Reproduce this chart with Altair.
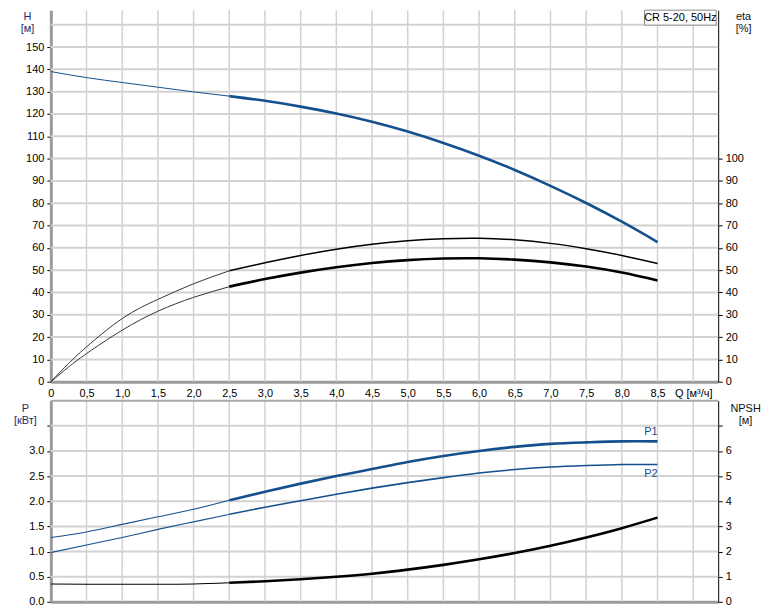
import altair as alt
import pandas as pd

# ---------------- data ----------------
Q = [0, 0.5, 1.0, 1.5, 2.0, 2.5, 3.0, 3.5, 4.0, 4.5, 5.0, 5.5, 6.0, 6.5, 7.0, 7.5, 8.0, 8.5]
H = [139.0, 136.3, 134.1, 132.0, 129.9, 128.0, 125.9, 123.3, 120.2, 116.5,
     112.1, 107.0, 101.3, 94.9, 87.8, 80.1, 71.7, 62.6]

Q_ETA = [0, 0.25, 0.5, 1.0, 1.5, 2.0, 2.5, 3.0, 3.5, 4.0, 4.5, 5.0, 5.5, 6.0, 6.5, 7.0, 7.5, 8.0, 8.5]
ETA_UPPER = [0, 8.2, 15.6, 28.3, 36.9, 43.9, 49.7, 53.3, 56.6, 59.4, 61.6, 63.2, 64.1, 64.3, 63.6, 62.0, 59.6, 56.6, 53.0]
ETA_LOWER = [0, 6.6, 12.6, 23.1, 31.6, 37.8, 42.6, 46.0, 48.9, 51.3, 53.2, 54.5, 55.2, 55.3, 54.7, 53.5, 51.6, 48.9, 45.4]

P1 = [1.28, 1.39, 1.54, 1.69, 1.84, 2.02, 2.19, 2.35, 2.50, 2.64, 2.78, 2.90, 3.00, 3.08, 3.14, 3.17, 3.19, 3.19]
P2 = [0.98, 1.13, 1.28, 1.44, 1.59, 1.74, 1.88, 2.01, 2.14, 2.26, 2.37, 2.47, 2.56, 2.63, 2.68, 2.71, 2.73, 2.73]
NPSH = [0.71, 0.70, 0.70, 0.70, 0.71, 0.76, 0.82, 0.90, 1.00, 1.12, 1.28, 1.47, 1.69, 1.94, 2.23, 2.56, 2.93, 3.35]

Q_TICKS = [i * 0.5 for i in range(0, 19)]
H_TICKS = list(range(0, 160, 10))
H_GRID = list(range(10, 170, 10))
ETA_TICKS = list(range(0, 110, 10))
P_TICKS = [i * 0.5 for i in range(0, 8)]
NPSH_TICKS = list(range(0, 8))
SPLIT_Q = 2.5
TITLE_TEXT = "CR 5-20, 50Hz"
CURVE_LABELS = ["P1", "P2"]

# ---------------- styles ----------------
BLUE = "#15508e"
GRID = "#d2d2d2"
FONT = "Liberation Sans"
W = 670
H_TOP = 373
H_BOT = 202
X_MAX = 9.35
Y_TOP_MAX = H_TOP / 2.24
P_MAX = 4.0
NPSH_MAX = 8.0
INTERP = "natural"

xs = alt.Scale(domain=[0, X_MAX], nice=False, zero=False)
ys_top = alt.Scale(domain=[0, Y_TOP_MAX], nice=False, zero=False)
ys_p = alt.Scale(domain=[0, P_MAX], nice=False, zero=False)
ys_n = alt.Scale(domain=[0, NPSH_MAX], nice=False, zero=False)

title_style = dict(titleAngle=0, titleAlign="center", titleBaseline="top", titleFontWeight="normal",
                   titleFontSize=11, titleFont=FONT, titleLineHeight=12)

x_axis_top = alt.Axis(
    values=Q_TICKS, grid=False, ticks=False, domainColor="#9a9a9a", domainWidth=3,
    labelPadding=6, title=None, labelFlush=False, labelOverlap=False,
    labelExpr="datum.value == 9 ? 'Q [м³/ч]' : (datum.value == 0 ? '0' : replace(format(datum.value, '.1f'), '.', ','))",
)
h_axis = alt.Axis(
    values=H_TICKS, grid=False, domainColor="#9a9a9a", domainWidth=3, tickColor="#000",
    tickSize=4, labelPadding=3, labelOverlap=False, title=["H", "[м]"], titleX=-24, titleY=0,
    titleColor="#1c2a6e", **title_style,
)
eta_axis = alt.Axis(
    orient="right", values=ETA_TICKS, grid=False, domainColor="#000", domainWidth=1,
    tickColor="#000", tickSize=4, labelPadding=3, labelOverlap=False, title=["eta", "[%]"],
    titleX=25, titleY=0, titleColor="#111", **title_style,
)
x_axis_bot = alt.Axis(values=Q_TICKS, grid=False, ticks=False, labels=False, domainColor="#9a9a9a",
                      domainWidth=3, title=None)
p_axis = alt.Axis(
    values=P_TICKS, grid=False, domainColor="#9a9a9a", domainWidth=3, tickColor="#000",
    tickSize=4, labelPadding=3, labelOverlap=False,
    labelExpr="datum.value > 3.2 ? '' : format(datum.value, '.1f')",
    title=["P", "[кВт]"], titleX=-26, titleY=2, titleColor="#1c2a6e", **title_style,
)
npsh_axis = alt.Axis(
    orient="right", values=NPSH_TICKS, grid=False, domainColor="#000", domainWidth=1,
    tickColor="#000", tickSize=4, labelPadding=3, labelOverlap=False,
    labelExpr="datum.value > 6.5 ? '' : datum.label",
    title=["NPSH", "[м]"], titleX=27, titleY=2, titleColor="#111", **title_style,
)


def frame(q, v):
    return pd.DataFrame({"q": q, "v": v})


def line(q, v, color, width, part, scale, xaxis, yaxis):
    df = frame(q, v)
    df = df[df.q <= SPLIT_Q] if part == "thin" else df[df.q >= SPLIT_Q]
    return alt.Chart(df).mark_line(color=color, strokeWidth=width, interpolate=INTERP).encode(
        x=alt.X("q:Q", scale=xs, axis=xaxis),
        y=alt.Y("v:Q", scale=scale, axis=yaxis),
    )


def vgrid(xaxis):
    return alt.Chart(pd.DataFrame({"q": Q_TICKS[1:]})).mark_rule(color=GRID, strokeWidth=1.5).encode(
        x=alt.X("q:Q", scale=xs, axis=xaxis))


def hgrid(vals, scale, yaxis):
    return alt.Chart(pd.DataFrame({"v": vals})).mark_rule(color=GRID, strokeWidth=2).encode(
        y=alt.Y("v:Q", scale=scale, axis=yaxis))


one = pd.DataFrame({"a": [0]})

# ---------------- top panel ----------------
XA, YA = x_axis_top, h_axis
left_top = alt.layer(
    vgrid(XA),
    hgrid(H_GRID, ys_top, YA),
    line(Q, H, BLUE, 1, "thin", ys_top, XA, YA),
    line(Q, H, BLUE, 2.6, "thick", ys_top, XA, YA),
    line(Q_ETA, ETA_UPPER, "#333", 1, "thin", ys_top, XA, YA),
    line(Q_ETA, ETA_LOWER, "#333", 1, "thin", ys_top, XA, YA),
    line(Q_ETA, ETA_UPPER, "#000", 1.5, "thick", ys_top, XA, YA),
    line(Q_ETA, ETA_LOWER, "#000", 2.6, "thick", ys_top, XA, YA),
)
right_top = alt.Chart(frame(Q_ETA, ETA_UPPER)).mark_point(opacity=0).encode(
    x=alt.X("q:Q", scale=xs, axis=XA),
    y=alt.Y("v:Q", scale=ys_top, axis=eta_axis),
)
box = alt.Chart(one).mark_rect(fill="white", stroke="#8a8a8a", strokeWidth=1).encode(
    x=alt.value(596), x2=alt.value(668), y=alt.value(0), y2=alt.value(15))
box_text = alt.Chart(one).mark_text(text=TITLE_TEXT, font=FONT, fontSize=11, color="#000",
                                    align="center", baseline="middle").encode(
    x=alt.value(632), y=alt.value(8))

top = alt.layer(left_top, right_top, box, box_text).resolve_scale(y="independent").properties(
    width=W, height=H_TOP)

# ---------------- bottom panel ----------------
XB, YB, YN = x_axis_bot, p_axis, npsh_axis
labels_df = pd.DataFrame({"q": [Q[-1], Q[-1]], "v": [P1[-1], P2[-1]], "t": CURVE_LABELS})


def curve_label(name, dy):
    return alt.Chart(labels_df[labels_df.t == name]).mark_text(
        font=FONT, fontSize=11, color=BLUE, align="right", baseline="middle", dy=dy).encode(
        x=alt.X("q:Q", scale=xs, axis=XB), y=alt.Y("v:Q", scale=ys_p, axis=YB), text="t:N")


left_bot = alt.layer(
    vgrid(XB),
    hgrid(P_TICKS[1:], ys_p, YB),
    alt.Chart(one).mark_rule(color="#a8a8a8", strokeWidth=2).encode(y=alt.value(0)),
    line(Q, P1, BLUE, 1.1, "thin", ys_p, XB, YB),
    line(Q, P2, BLUE, 1.1, "thin", ys_p, XB, YB),
    line(Q, P1, BLUE, 2.6, "thick", ys_p, XB, YB),
    line(Q, P2, BLUE, 1.6, "thick", ys_p, XB, YB),
    curve_label("P1", -9),
    curve_label("P2", 10),
)
right_bot = alt.layer(
    line(Q, NPSH, "#000", 2.6, "thick", ys_n, XB, YN),
    line(Q, NPSH, "#000", 1.1, "thin", ys_n, XB, YN),
)
bottom = alt.layer(left_bot, right_bot).resolve_scale(y="independent").properties(width=W, height=H_BOT)

chart = alt.vconcat(top, bottom, spacing=19, bounds="flush").properties(
    padding={"left": 5, "top": 0, "right": 5, "bottom": 0}
).configure_view(stroke=None).configure_axis(
    labelFont=FONT, labelFontSize=11, labelColor="#000", labelOverlap=False,
)

chart.save("out.html", embed_options={"renderer": "svg", "actions": False})
